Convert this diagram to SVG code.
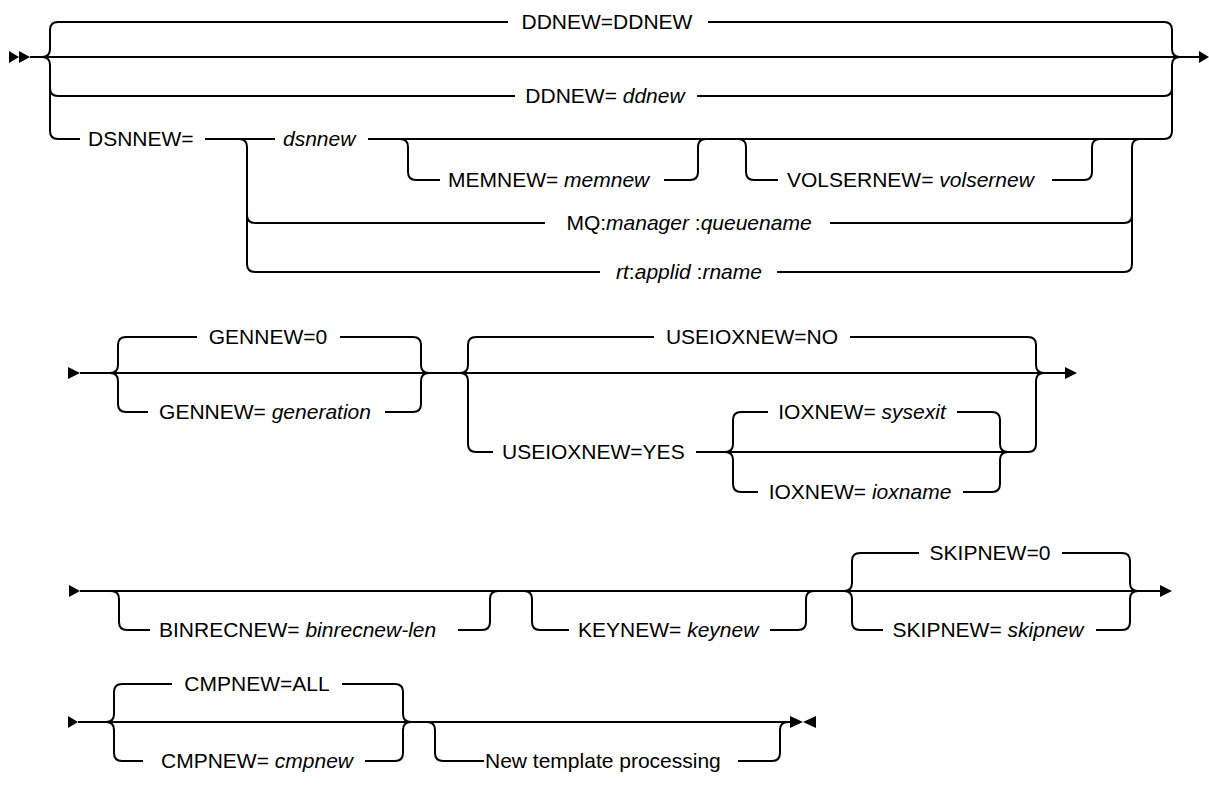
<svg xmlns="http://www.w3.org/2000/svg" width="1209" height="785" viewBox="0 0 1209 785">
<style>
.ln{fill:none;stroke:#000;stroke-width:2;}
.ah{fill:#000;stroke:none;}
text{font-family:"Liberation Sans",Arial,sans-serif;font-size:21px;fill:#000;}
.i{font-style:italic;}
.m{text-anchor:middle;}
</style>
<rect width="1209" height="785" fill="#fff"/>
<g id="connectors">
<!-- Row 1 -->
<polygon class="ah" points="9,51 19,57 9,63"/>
<polygon class="ah" points="19,51 30,57 19,63"/>
<path class="ln" d="M30,57 H1200"/>
<path class="ln" d="M42,57 q8,0 8,-8 V30 q0,-8 8,-8 H508 M708,22 H1164 q8,0 8,8 V49 q0,8 8,8"/>
<path class="ln" d="M42,57 q8,0 8,8 V131 q0,8 8,8 H80 M1164,139 q8,0 8,-8 V65 q0,-8 8,-8"/>
<path class="ln" d="M50,88 q0,8 8,8 H515 M697,96 H1164 q8,0 8,-8"/>
<path class="ln" d="M205,139 H275 M368,139 H1164"/>
<path class="ln" d="M239,139 q8,0 8,8 V264 q0,8 8,8 H600 M777,272 H1124 q8,0 8,-8 V147 q0,-8 8,-8"/>
<path class="ln" d="M247,215 q0,8 8,8 H545 M830,223 H1124 q8,0 8,-8"/>
<path class="ln" d="M400,139 q8,0 8,8 V172 q0,8 8,8 H440 M664,180 H690 q8,0 8,-8 V147 q0,-8 8,-8"/>
<path class="ln" d="M738,139 q8,0 8,8 V172 q0,8 8,8 H778 M1052,180 H1084 q8,0 8,-8 V147 q0,-8 8,-8"/>
<polygon class="ah" points="1199,51 1209,57 1199,63"/>
<!-- Row 2 -->
<polygon class="ah" points="68,367 80,373 68,379"/>
<path class="ln" d="M80,373 H1066"/>
<path class="ln" d="M110,373 q8,0 8,-8 V345 q0,-8 8,-8 H197 M340,337 H413 q8,0 8,8 V365 q0,8 8,8"/>
<path class="ln" d="M110,373 q8,0 8,8 V404 q0,8 8,8 H148 M385,412 H413 q8,0 8,-8 V381 q0,-8 8,-8"/>
<path class="ln" d="M460,373 q8,0 8,-8 V345 q0,-8 8,-8 H654 M850,337 H1028 q8,0 8,8 V365 q0,8 8,8"/>
<path class="ln" d="M460,373 q8,0 8,8 V444 q0,8 8,8 H493 M696,452 H1028 q8,0 8,-8 V381 q0,-8 8,-8"/>
<path class="ln" d="M725,452 q8,0 8,-8 V420 q0,-8 8,-8 H768 M957,412 H992 q8,0 8,8 V444 q0,8 8,8"/>
<path class="ln" d="M725,452 q8,0 8,8 V484 q0,8 8,8 H758 M963,492 H992 q8,0 8,-8 V460 q0,-8 8,-8"/>
<polygon class="ah" points="1065,367 1077,373 1065,379"/>
<!-- Row 3 -->
<polygon class="ah" points="69,585 80,591 69,597"/>
<path class="ln" d="M80,591 H1160"/>
<path class="ln" d="M111,591 q8,0 8,8 V622 q0,8 8,8 H150 M458,630 H482 q8,0 8,-8 V599 q0,-8 8,-8"/>
<path class="ln" d="M524,591 q8,0 8,8 V622 q0,8 8,8 H569 M770,630 H798 q8,0 8,-8 V599 q0,-8 8,-8"/>
<path class="ln" d="M844,591 q8,0 8,-8 V561 q0,-8 8,-8 H919 M1062,553 H1122 q8,0 8,8 V583 q0,8 8,8"/>
<path class="ln" d="M844,591 q8,0 8,8 V622 q0,8 8,8 H883 M1096,630 H1122 q8,0 8,-8 V599 q0,-8 8,-8"/>
<polygon class="ah" points="1160,585 1172,591 1160,597"/>
<!-- Row 4 -->
<polygon class="ah" points="68,716 78,722 68,728"/>
<path class="ln" d="M78,722 H790"/>
<path class="ln" d="M106,722 q8,0 8,-8 V692 q0,-8 8,-8 H172 M342,684 H395 q8,0 8,8 V714 q0,8 8,8"/>
<path class="ln" d="M106,722 q8,0 8,8 V753 q0,8 8,8 H143 M365,761 H395 q8,0 8,-8 V730 q0,-8 8,-8"/>
<path class="ln" d="M427,722 q8,0 8,8 V753 q0,8 8,8 H484 M738,761 H772 q8,0 8,-8 V730 q0,-8 8,-8"/>
<polygon class="ah" points="790,716 803,722 790,728"/>
<polygon class="ah" points="816,716 803,722 816,728"/>
</g>
<g id="n-ddnew-default"><text class="m" x="607" y="28.5">DDNEW=DDNEW</text></g>
<g id="n-ddnew"><text class="m" x="605" y="102.5">DDNEW= <tspan class="i">ddnew</tspan></text></g>
<g id="n-dsnnew-kw"><text x="88" y="145.5">DSNNEW=</text></g>
<g id="n-dsnnew"><text class="i" x="283" y="145.5">dsnnew</text></g>
<g id="n-memnew"><text x="448" y="186.5">MEMNEW= <tspan class="i">memnew</tspan></text></g>
<g id="n-volsernew"><text x="787" y="186.5">VOLSERNEW= <tspan class="i">volsernew</tspan></text></g>
<g id="n-mq"><text class="m" x="689" y="229.5">MQ:<tspan class="i">manager</tspan> :<tspan class="i">queuename</tspan></text></g>
<g id="n-rt"><text class="m" x="689" y="278.5"><tspan class="i">rt</tspan>:<tspan class="i">applid</tspan> :<tspan class="i">rname</tspan></text></g>
<g id="n-gennew0"><text class="m" x="268" y="343.5">GENNEW=0</text></g>
<g id="n-gennew"><text class="m" x="265" y="418.5">GENNEW= <tspan class="i">generation</tspan></text></g>
<g id="n-useioxno"><text class="m" x="752" y="343.5">USEIOXNEW=NO</text></g>
<g id="n-useioxyes"><text x="502" y="458.5">USEIOXNEW=YES</text></g>
<g id="n-ioxsys"><text class="m" x="862" y="418.5">IOXNEW= <tspan class="i">sysexit</tspan></text></g>
<g id="n-ioxname"><text class="m" x="860" y="498.5">IOXNEW= <tspan class="i">ioxname</tspan></text></g>
<g id="n-binrec"><text x="159" y="636.5">BINRECNEW= <tspan class="i">binrecnew-len</tspan></text></g>
<g id="n-keynew"><text x="578" y="636.5">KEYNEW= <tspan class="i">keynew</tspan></text></g>
<g id="n-skip0"><text class="m" x="990" y="559.5">SKIPNEW=0</text></g>
<g id="n-skipnew"><text class="m" x="988" y="636.5">SKIPNEW= <tspan class="i">skipnew</tspan></text></g>
<g id="n-cmpall"><text class="m" x="257" y="690.5">CMPNEW=ALL</text></g>
<g id="n-cmpnew"><text class="m" x="257" y="767.5">CMPNEW= <tspan class="i">cmpnew</tspan></text></g>
<g id="n-ntp"><text x="485" y="767.5">New template processing</text></g>
</svg>
